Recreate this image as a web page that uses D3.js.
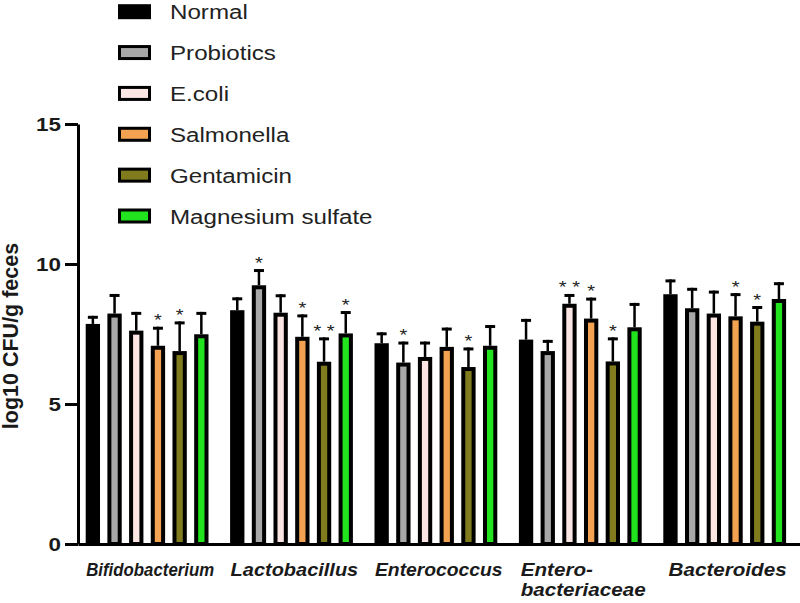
<!DOCTYPE html>
<html>
<head>
<meta charset="utf-8">
<script src="https://cdn.jsdelivr.net/npm/d3@7"></script>
<style>
  body { margin: 0; background: #fff; }
  svg { display: block; font-family: "Liberation Sans", Arial, sans-serif; }
</style>
</head>
<body>
<script>
// data (log10 CFU/g feces)
var groups = ["Bifidobacterium", "Lactobacillus", "Enterococcus", "Entero-|bacteriaceae", "Bacteroides"];
var series = ["Normal", "Probiotics", "E.coli", "Salmonella", "Gentamicin", "Magnesium sulfate"];
var colors = ["#000000", "#a8a8a8", "#fbe6e3", "#f3a251", "#807c1e", "#22e41e"];

var means = [
  [7.86, 8.23, 7.62, 7.08, 6.89, 7.49],
  [8.35, 9.24, 8.26, 7.40, 6.51, 7.52],
  [7.17, 6.48, 6.68, 7.04, 6.32, 7.08],
  [7.30, 6.89, 8.58, 8.05, 6.52, 7.74],
  [8.92, 8.42, 8.23, 8.13, 7.94, 8.75]
];
var errs = [
  [0.29, 0.70, 0.67, 0.68, 1.06, 0.80],
  [0.46, 0.58, 0.66, 0.80, 0.87, 0.80],
  [0.39, 0.75, 0.55, 0.69, 0.70, 0.74],
  [0.74, 0.40, 0.35, 0.75, 0.86, 0.87],
  [0.53, 0.73, 0.82, 0.83, 0.56, 0.60]
];
var signif = [
  ["", "", "", "*", "*", ""],
  ["", "*", "", "*", "**", "*"],
  ["", "*", "", "", "*", ""],
  ["", "", "**", "*", "*", ""],
  ["", "", "", "*", "*", ""]
];
var yTicks = [0, 5, 10, 15];

var W = 800, H = 603;
var stretch = 1.18; // text in the figure is drawn a bit wide

var svg = d3.select("body").append("svg")
    .attr("width", W)
    .attr("height", H);

// scales
var x0 = d3.scaleBand()
    .domain(groups)
    .range([78, 800]);

var x1 = d3.scaleBand()
    .domain(series)
    .range([7.7, 130.5])
    .paddingInner(0.34);

var y = d3.scaleLinear()
    .domain([0, 15])
    .range([544, 124]);

// flatten into bar records
var bars = [];
groups.forEach(function(g, gi) {
  series.forEach(function(s, si) {
    bars.push({group: g, series: s, color: colors[si], v: means[gi][si], e: errs[gi][si], sig: signif[gi][si]});
  });
});

var sw = 4; // bar outline

var gBars = svg.append("g").attr("class", "bars");

// error bars (upper only), drawn first so the bar outline covers the stem base
gBars.selectAll("line.stem")
    .data(bars)
    .enter()
    .append("line")
      .attr("class", "stem")
      .attr("x1", function(d) { return x0(d.group) + x1(d.series) + x1.bandwidth() / 2; })
      .attr("x2", function(d) { return x0(d.group) + x1(d.series) + x1.bandwidth() / 2; })
      .attr("y1", function(d) { return y(d.v); })
      .attr("y2", function(d) { return y(d.v + d.e); })
      .attr("stroke", "#000")
      .attr("stroke-width", 2.5);

gBars.selectAll("line.cap")
    .data(bars)
    .enter()
    .append("line")
      .attr("class", "cap")
      .attr("x1", function(d) { return x0(d.group) + x1(d.series) + x1.bandwidth() / 2 - 5; })
      .attr("x2", function(d) { return x0(d.group) + x1(d.series) + x1.bandwidth() / 2 + 5; })
      .attr("y1", function(d) { return y(d.v + d.e) + 1.5; })
      .attr("y2", function(d) { return y(d.v + d.e) + 1.5; })
      .attr("stroke", "#000")
      .attr("stroke-width", 3);

gBars.selectAll("rect")
    .data(bars)
    .enter()
    .append("rect")
      .attr("x", function(d) { return x0(d.group) + x1(d.series) + sw / 2; })
      .attr("width", x1.bandwidth() - sw)
      .attr("y", function(d) { return y(d.v) + sw / 2; })
      .attr("height", function(d) { return y(0) - y(d.v) - sw / 2; })
      .attr("fill", function(d) { return d.color; })
      .attr("stroke", "#000")
      .attr("stroke-width", sw);

// significance stars
gBars.selectAll("text.sig")
    .data(bars.filter(function(d) { return d.sig; }))
    .enter()
    .append("text")
      .attr("class", "sig")
      .attr("text-anchor", "middle")
      .attr("font-size", 17)
      .attr("fill", "#222")
      .attr("transform", function(d) {
        var cx = x0(d.group) + x1(d.series) + x1.bandwidth() / 2;
        return "translate(" + cx + "," + (y(d.v + d.e) - 0.5) + ") scale(" + stretch + ",1)";
      })
      .text(function(d) { return d.sig.split("").join(" "); });

// axes
var yAxis = d3.axisLeft(y)
    .tickValues(yTicks)
    .tickSize(13)
    .tickSizeOuter(0);

var gy = svg.append("g")
    .attr("transform", "translate(78,0)")
    .call(yAxis);
gy.select(".domain").attr("stroke-width", 3).attr("stroke", "#000");
gy.selectAll(".tick line").attr("stroke-width", 3).attr("stroke", "#000");
gy.selectAll(".tick text")
    .attr("x", 0)
    .attr("dy", null)
    .attr("y", 6.8)
    .attr("font-size", 19)
    .attr("font-weight", "bold")
    .attr("font-family", "Liberation Sans, Arial, sans-serif")
    .attr("fill", "#1a1a1a")
    .attr("transform", "translate(-17,0) scale(" + stretch + ",1)");

var xAxis = d3.axisBottom(x0)
    .tickSize(0)
    .tickSizeOuter(0)
    .tickFormat("");

var gx = svg.append("g")
    .attr("transform", "translate(0,544)")
    .call(xAxis);
gx.select(".domain").attr("stroke-width", 3).attr("stroke", "#000");

// group labels (bold italic, split on "|")
var gLab = svg.append("g").attr("class", "xlabels");
gLab.selectAll("text")
    .data(groups)
    .enter()
    .append("text")
      .attr("font-size", 17.5)
      .attr("font-weight", "bold")
      .attr("font-style", "italic")
      .attr("fill", "#1a1a1a")
      .each(function(g) {
        var t = d3.select(this);
        var lines = g.split("|");
        lines.forEach(function(l, i) {
          t.append("tspan").attr("x", 0).attr("y", i * 20.5).text(l);
        });
        var len = this.getBBox().width;
        var sx = Math.min(stretch, 128 / len);
        var cx = x0(g) + x0.bandwidth() / 2;
        t.attr("transform", "translate(" + (cx - len * sx / 2) + ",576) scale(" + sx + ",1)");
      });

// y axis title
svg.append("text")
    .attr("transform", "translate(18,336) rotate(-90)")
    .attr("text-anchor", "middle")
    .attr("font-size", 21.5)
    .attr("font-weight", "bold")
    .attr("fill", "#1a1a1a")
    .text("log10 CFU/g feces");

// legend
var ly = d3.scalePoint()
    .domain(series)
    .range([11.7, 216]);

var leg = svg.append("g").attr("class", "legend");
var items = leg.selectAll("g")
    .data(series)
    .enter()
    .append("g")
      .attr("transform", function(d) { return "translate(0," + ly(d) + ")"; });

items.append("rect")
    .attr("x", 119.5)
    .attr("y", -6)
    .attr("width", 30)
    .attr("height", 12)
    .attr("fill", function(d, i) { return colors[i]; })
    .attr("stroke", "#000")
    .attr("stroke-width", 3);

items.append("text")
    .attr("transform", "translate(170,7.5) scale(1.15,1)")
    .attr("font-size", 21)
    .attr("fill", "#222")
    .text(function(d) { return d; });
</script>
</body>
</html>
